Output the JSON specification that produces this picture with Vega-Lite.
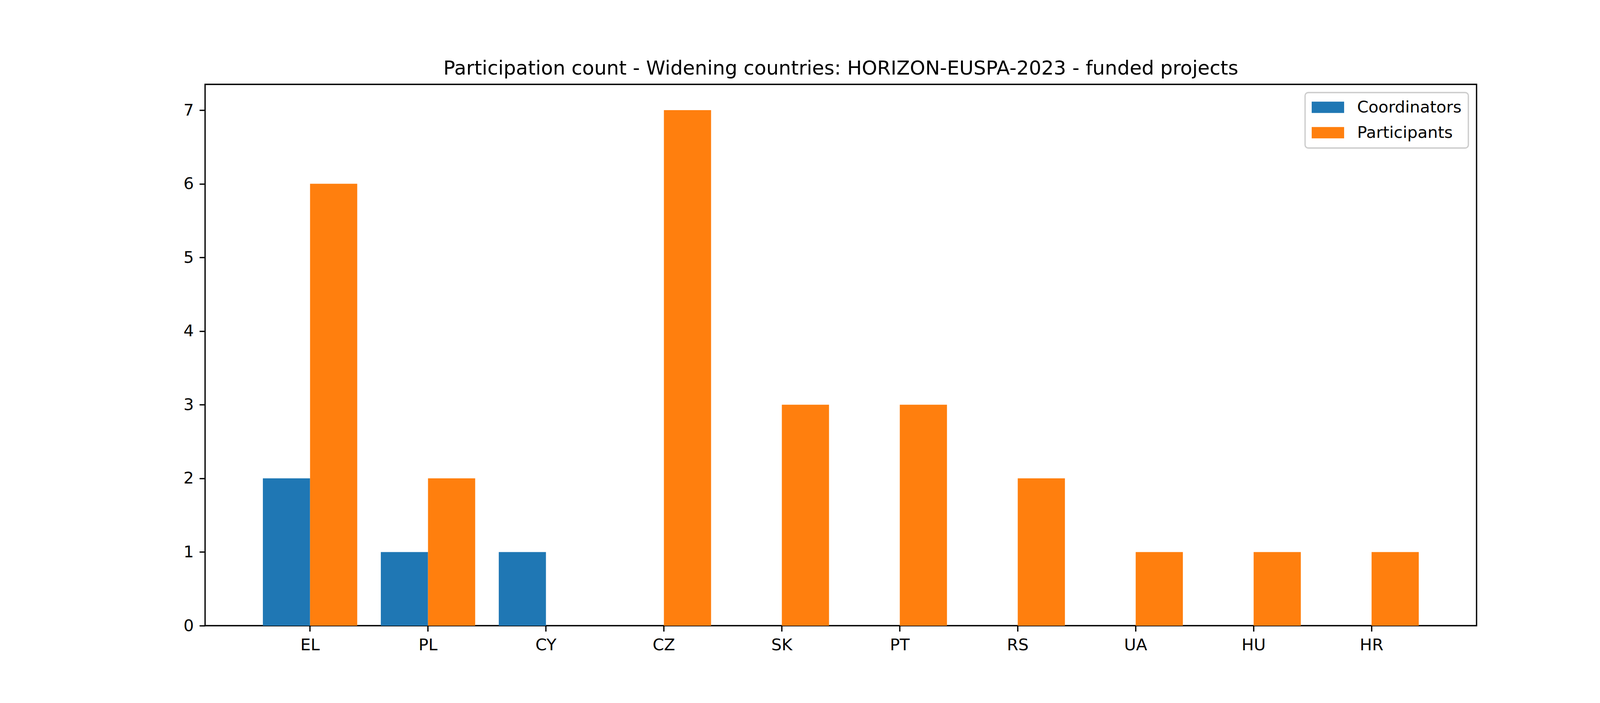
{
  "$schema": "https://vega.github.io/schema/vega-lite/v6.json",
  "width": 3255,
  "height": 1386,
  "autosize": {"type": "none"},
  "padding": {"left": 525, "top": 216, "right": 420, "bottom": 198},
  "background": "white",
  "title": {
    "text": "Participation count - Widening countries: HORIZON-EUSPA-2023 - funded projects",
    "font": "DejaVu Sans",
    "fontSize": 50,
    "fontWeight": "normal",
    "color": "black",
    "anchor": "middle",
    "offset": 15
  },
  "data": {
    "values": [
      {"country": "EL", "role": "Coordinators", "count": 2},
      {"country": "EL", "role": "Participants", "count": 6},
      {"country": "PL", "role": "Coordinators", "count": 1},
      {"country": "PL", "role": "Participants", "count": 2},
      {"country": "CY", "role": "Coordinators", "count": 1},
      {"country": "CY", "role": "Participants", "count": 0},
      {"country": "CZ", "role": "Coordinators", "count": 0},
      {"country": "CZ", "role": "Participants", "count": 7},
      {"country": "SK", "role": "Coordinators", "count": 0},
      {"country": "SK", "role": "Participants", "count": 3},
      {"country": "PT", "role": "Coordinators", "count": 0},
      {"country": "PT", "role": "Participants", "count": 3},
      {"country": "RS", "role": "Coordinators", "count": 0},
      {"country": "RS", "role": "Participants", "count": 2},
      {"country": "UA", "role": "Coordinators", "count": 0},
      {"country": "UA", "role": "Participants", "count": 1},
      {"country": "HU", "role": "Coordinators", "count": 0},
      {"country": "HU", "role": "Participants", "count": 1},
      {"country": "HR", "role": "Coordinators", "count": 0},
      {"country": "HR", "role": "Participants", "count": 1}
    ]
  },
  "mark": {"type": "bar", "opacity": 1},
  "encoding": {
    "x": {
      "field": "country",
      "type": "nominal",
      "sort": ["EL", "PL", "CY", "CZ", "SK", "PT", "RS", "UA", "HU", "HR"],
      "scale": {"paddingInner": 0.2, "paddingOuter": 0.49},
      "axis": {"title": null, "labelAngle": 0}
    },
    "xOffset": {
      "field": "role",
      "type": "nominal",
      "sort": ["Coordinators", "Participants"],
      "scale": {"paddingInner": 0, "paddingOuter": 0}
    },
    "y": {
      "field": "count",
      "type": "quantitative",
      "scale": {"domain": [0, 7.35], "nice": false, "zero": true},
      "axis": {"title": null, "values": [0, 1, 2, 3, 4, 5, 6, 7], "grid": false}
    },
    "color": {
      "field": "role",
      "type": "nominal",
      "sort": ["Coordinators", "Participants"],
      "scale": {"domain": ["Coordinators", "Participants"], "range": ["#1f77b4", "#ff7f0e"]},
      "legend": {
        "title": null,
        "orient": "top-right",
        "offset": 21,
        "symbolType": "M-2,-0.7H2V0.7H-2Z",
        "symbolSize": 1722,
        "symbolOffset": 20.75,
        "symbolStrokeWidth": 0,
        "symbolOpacity": 1,
        "labelOffset": 53.75,
        "labelLimit": 1000,
        "rowPadding": 22,
        "padding": 16.7,
        "fillColor": "rgba(255,255,255,0.8)",
        "strokeColor": "#cccccc",
        "cornerRadius": 8,
        "encode": {
          "legend": {"update": {"strokeWidth": {"value": 3.3}}}
        }
      }
    }
  },
  "config": {
    "font": "DejaVu Sans",
    "view": {"stroke": "black", "strokeWidth": 3.3},
    "axis": {
      "domain": false,
      "labelFont": "DejaVu Sans",
      "labelFontSize": 41.7,
      "labelColor": "black",
      "tickColor": "black",
      "tickWidth": 3.3,
      "tickSize": 14.6,
      "labelPadding": 14.6,
      "grid": false
    },
    "legend": {
      "labelFont": "DejaVu Sans",
      "labelFontSize": 41.7,
      "labelColor": "black"
    }
  }
}
